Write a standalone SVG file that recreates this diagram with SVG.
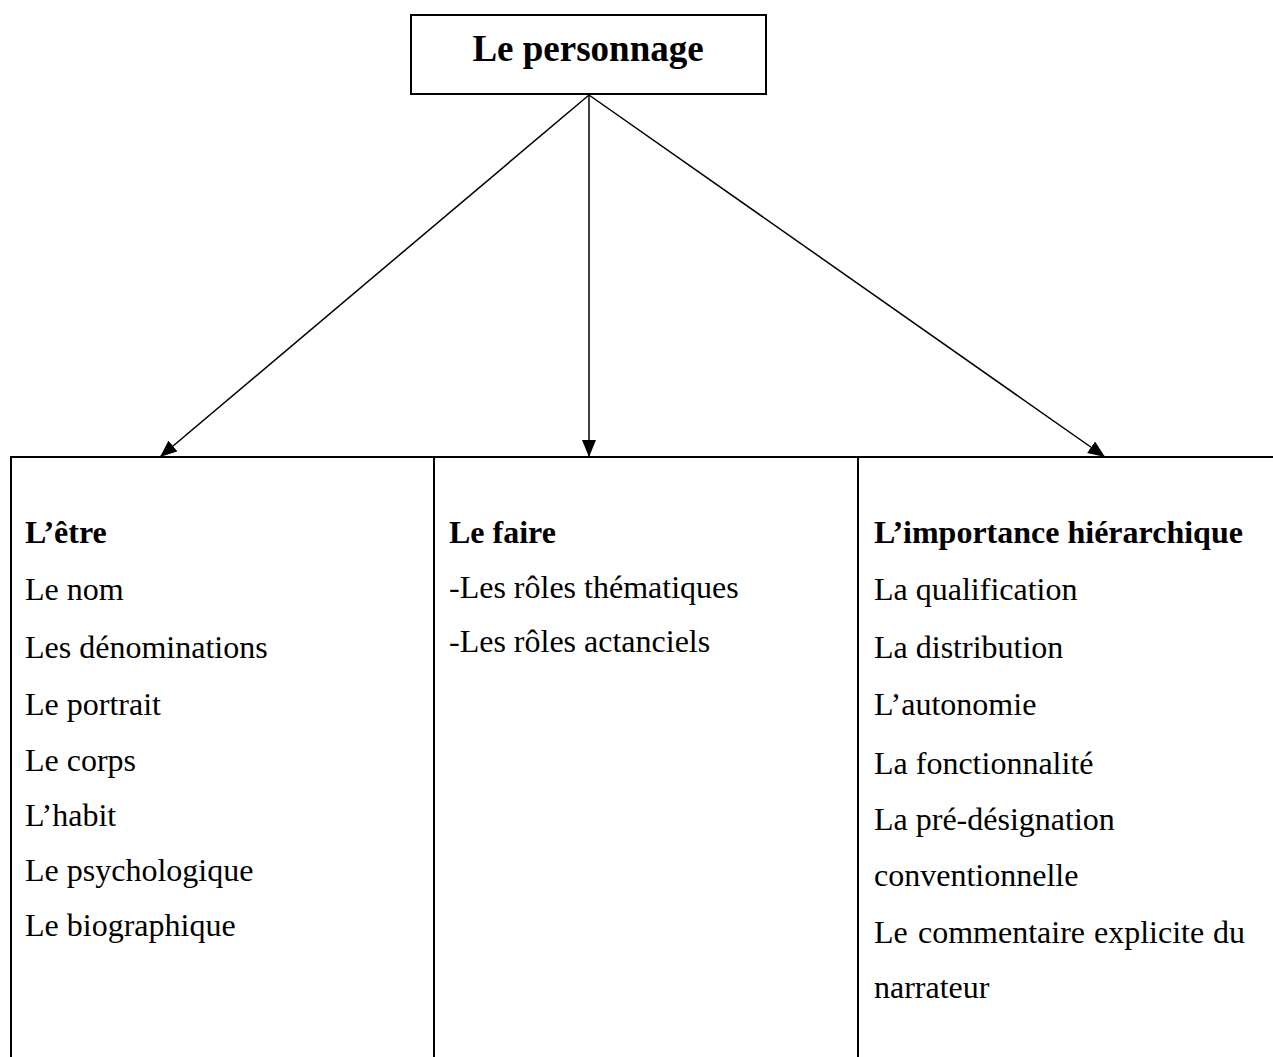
<svg xmlns="http://www.w3.org/2000/svg" width="1273" height="1057" viewBox="0 0 1273 1057">
<style>
.t{font-family:"Liberation Serif","Times New Roman",serif;font-size:32px;fill:#000}
.b{font-weight:bold}
.ln{stroke:#000;stroke-width:2;fill:none}
.ar{stroke:#000;stroke-width:1.5;fill:none;marker-end:url(#ah)}
</style>
<defs>
<marker id="ah" markerUnits="userSpaceOnUse" markerWidth="18" markerHeight="14" refX="17" refY="7" orient="auto">
<path d="M0,0 L17,7 L0,14 Z" fill="#000"/>
</marker>
</defs>
<rect width="1273" height="1057" fill="#fff"/>
<g id="root">
<rect x="411" y="15" width="355" height="79" class="ln"/>
<text x="588" y="61" class="t b" text-anchor="middle" style="font-size:37px">Le personnage</text>
</g>
<g id="connectors">
<line x1="589" y1="95" x2="160" y2="457" class="ar"/>
<line x1="589" y1="95" x2="589" y2="457" class="ar"/>
<line x1="589" y1="95" x2="1105" y2="457" class="ar"/>
</g>
<g id="table">
<line x1="10" y1="457" x2="1273" y2="457" class="ln"/>
<line x1="11" y1="456" x2="11" y2="1057" class="ln"/>
<line x1="434" y1="456" x2="434" y2="1057" class="ln"/>
<line x1="858" y1="456" x2="858" y2="1057" class="ln"/>
</g>
<g id="etre">
<text x="25" y="543" class="t b">L’être</text>
<text x="25" y="600" class="t">Le nom</text>
<text x="25" y="658" class="t">Les dénominations</text>
<text x="25" y="715" class="t">Le portrait</text>
<text x="25" y="771" class="t">Le corps</text>
<text x="25" y="826" class="t">L’habit</text>
<text x="25" y="881" class="t">Le psychologique</text>
<text x="25" y="936" class="t">Le biographique</text>
</g>
<g id="faire">
<text x="449" y="543" class="t b">Le faire</text>
<text x="449" y="598" class="t">-Les rôles thématiques</text>
<text x="449" y="652" class="t">-Les rôles actanciels</text>
</g>
<g id="importance">
<text x="874" y="543" class="t b">L’importance hiérarchique</text>
<text x="874" y="600" class="t">La qualification</text>
<text x="874" y="658" class="t">La distribution</text>
<text x="874" y="715" class="t">L’autonomie</text>
<text x="874" y="774" class="t">La fonctionnalité</text>
<text x="874" y="830" class="t">La pré-désignation</text>
<text x="874" y="886" class="t">conventionnelle</text>
<text y="943" class="t"><tspan x="874">Le</tspan><tspan x="918">commentaire</tspan><tspan x="1094">explicite</tspan><tspan x="1245" text-anchor="end">du</tspan></text>
<text x="874" y="998" class="t">narrateur</text>
</g>
</svg>
